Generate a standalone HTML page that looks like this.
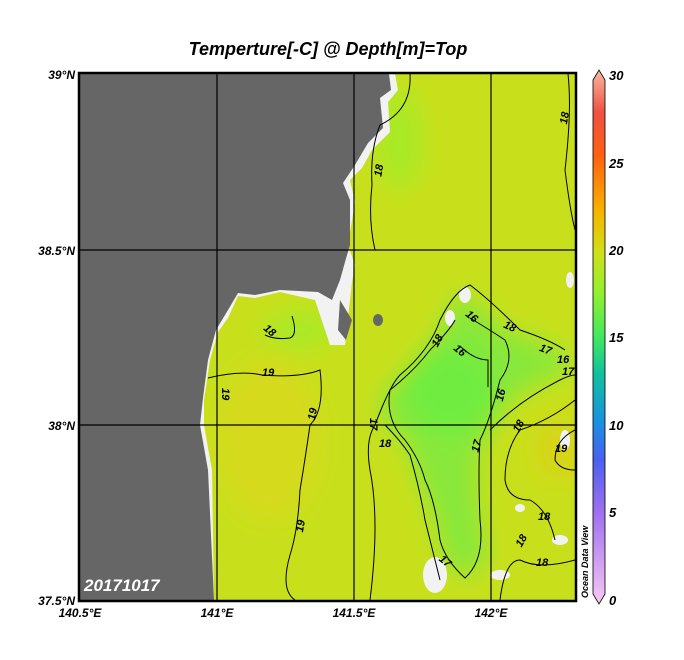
<!DOCTYPE html>
<html><head><meta charset="utf-8"><style>
body{margin:0;background:#fff;width:684px;height:660px;overflow:hidden}
svg{display:block}
text{font-family:"Liberation Sans",sans-serif;font-style:italic;font-weight:bold}
</style></head><body>
<svg width="684" height="660" viewBox="0 0 684 660">
<defs>
<linearGradient id="cb" x1="0" y1="1" x2="0" y2="0">
<stop offset="0" stop-color="#f8c8f4"/>
<stop offset="0.17" stop-color="#a070f0"/>
<stop offset="0.27" stop-color="#4a60f0"/>
<stop offset="0.34" stop-color="#1a90e0"/>
<stop offset="0.43" stop-color="#10c0a0"/>
<stop offset="0.5" stop-color="#40e860"/>
<stop offset="0.58" stop-color="#90f030"/>
<stop offset="0.66" stop-color="#d0e018"/>
<stop offset="0.74" stop-color="#f8b000"/>
<stop offset="0.84" stop-color="#ff6010"/>
<stop offset="0.92" stop-color="#f05040"/>
<stop offset="1" stop-color="#f8b8a0"/>
</linearGradient>
<filter id="bl"><feGaussianBlur stdDeviation="12"/></filter>
<clipPath id="pc"><rect x="80" y="74" width="495" height="526"/></clipPath>
</defs>
<text x="328" y="55" font-size="18" text-anchor="middle">Temperture[-C] @ Depth[m]=Top</text>
<g clip-path="url(#pc)">
<rect x="80" y="74" width="495" height="526" fill="#c8e01c"/>
<g filter="url(#bl)">
<ellipse cx="270" cy="440" rx="50" ry="80" fill="#d6da1a"/>
<ellipse cx="560" cy="450" rx="25" ry="30" fill="#d8d418"/>
<polygon points="465,295 505,330 560,350 575,370 545,380 510,400 490,430 476,460 480,520 488,560 465,580 445,560 435,520 415,470 405,440 380,420 385,390 410,370 435,340 455,300" fill="#88e83a"/>
<ellipse cx="450" cy="390" rx="45" ry="45" fill="#70ec40"/>
<ellipse cx="400" cy="140" rx="22" ry="50" fill="#a8ea28"/>
<ellipse cx="300" cy="330" rx="35" ry="18" fill="#a8ea28"/>
</g>
<polygon points="80,74 395,74 398,90 388,102 390,132 372,150 362,168 350,180 355,202 348,245 355,265 352,282 345,345 330,345 315,300 280,292 255,298 238,296 228,318 218,332 210,360 204,400 204,425 212,470 214,600 80,600" fill="#f2f2f2"/>
<polygon points="80,74 389,74 391,90 380,98 383,128 368,143 355,165 343,183 350,200 350,245 345,262 340,280 332,300 318,292 280,290 255,295 238,293 228,310 216,330 208,360 203,398 200,425 208,470 214,600 80,600" fill="#666"/>
<polygon points="340,300 338,330 346,340 352,320" fill="#666"/>
<ellipse cx="378" cy="320" rx="5" ry="6" fill="#666"/>
<g fill="#f2f2f2"><ellipse cx="465" cy="295" rx="6" ry="8"/><ellipse cx="450" cy="318" rx="5" ry="8"/><ellipse cx="560" cy="540" rx="8" ry="5"/><ellipse cx="565" cy="440" rx="5" ry="10"/><ellipse cx="520" cy="508" rx="5" ry="4"/><ellipse cx="435" cy="575" rx="12" ry="18"/><ellipse cx="500" cy="575" rx="10" ry="5"/><ellipse cx="570" cy="280" rx="4" ry="8"/></g>
<g fill="none" stroke="#000" stroke-width="1">
<path d="M410,74 Q412,110 380,125 Q370,150 372,185 Q368,220 375,250"/>
<path d="M568,74 Q572,110 565,170 Q570,210 575,230"/>
<path d="M292,316 Q298,335 290,338 Q275,340 265,335"/>
<path d="M208,378 Q240,370 262,375 Q300,378 320,370 Q325,410 310,425 Q305,460 300,490 Q298,530 290,555 Q280,590 295,600"/>
<path d="M370,600 Q380,520 370,470 Q365,440 375,425 Q390,385 400,375 Q430,350 440,320 Q455,290 470,285 Q490,300 520,330 Q550,340 565,350"/>
<path d="M385,425 Q400,440 410,455 Q420,490 425,520 Q435,560 440,580"/>
<path d="M470,318 Q490,330 505,340 Q515,360 500,380 Q490,420 480,440 Q478,470 480,520 Q485,560 465,578 Q445,560 440,540 Q435,500 425,480 Q420,460 405,440 Q385,420 390,390 Q415,370 430,350 Q450,330 455,320"/>
<path d="M461,347 Q475,360 488,360 Q488,400 488,380"/>
<path d="M490,430 Q520,400 560,380 Q570,375 575,375"/>
<path d="M575,400 Q550,420 520,430 Q505,450 505,480 Q508,500 530,500 Q548,510 555,540"/>
<path d="M500,600 Q505,560 520,560 Q540,570 575,560"/>
<path d="M575,430 Q555,440 555,460 Q560,470 575,470"/>
</g>
<g font-size="11" fill="#000" font-style="normal">
<text x="372" y="178" transform="rotate(-80 376 172)">18</text>
<text x="264" y="334" transform="rotate(40 270 330)">18</text>
<text x="230" y="388" transform="rotate(90 226 384)">19</text>
<text x="262" y="376">19</text>
<text x="306" y="418" transform="rotate(-80 312 414)">19</text>
<text x="294" y="530" transform="rotate(-80 300 526)">19</text>
<text x="430" y="345" transform="rotate(-60 436 340)">18</text>
<text x="466" y="320" transform="rotate(40 472 316)">16</text>
<text x="454" y="354" transform="rotate(40 460 350)">16</text>
<text x="495" y="400" transform="rotate(-75 500 396)">16</text>
<text x="504" y="330" transform="rotate(25 510 326)">18</text>
<text x="540" y="353" transform="rotate(20 546 348)">17</text>
<text x="557" y="363">16</text>
<text x="562" y="375">17</text>
<text x="379" y="447">18</text>
<text x="378" y="418" transform="rotate(90 374 414)">17</text>
<text x="470" y="450" transform="rotate(-75 476 446)">17</text>
<text x="512" y="430" transform="rotate(-60 518 426)">18</text>
<text x="555" y="452">19</text>
<text x="538" y="520">18</text>
<text x="514" y="545" transform="rotate(-60 520 540)">18</text>
<text x="536" y="566">18</text>
<text x="440" y="565" transform="rotate(40 446 560)">17</text>
<text x="558" y="122" transform="rotate(-80 564 118)">18</text>
</g>
</g>
<g stroke="#000" stroke-width="1.2">
<line x1="217" y1="74" x2="217" y2="600"/><line x1="354" y1="74" x2="354" y2="600"/><line x1="491" y1="74" x2="491" y2="600"/>
<line x1="80" y1="250" x2="575" y2="250"/><line x1="80" y1="425" x2="575" y2="425"/>
</g>
<rect x="79" y="73" width="497" height="528" fill="none" stroke="#000" stroke-width="2.5"/>
<text x="84" y="591" font-size="17" fill="#fff">20171017</text>
<g font-size="12" fill="#000">
<text x="75" y="79" text-anchor="end">39°N</text>
<text x="75" y="255" text-anchor="end">38.5°N</text>
<text x="75" y="430" text-anchor="end">38°N</text>
<text x="75" y="605" text-anchor="end">37.5°N</text>
<text x="80" y="617" text-anchor="middle">140.5°E</text>
<text x="217" y="617" text-anchor="middle">141°E</text>
<text x="354" y="617" text-anchor="middle">141.5°E</text>
<text x="491" y="617" text-anchor="middle">142°E</text>
</g>
<text x="588" y="598" font-size="9" transform="rotate(-90 588 598)">Ocean Data View</text>
<polygon points="593,80 599,70 605,80 605,594 599,604 593,594" fill="url(#cb)" stroke="#000" stroke-width="0.8"/>
<g font-size="13" fill="#000">
<text x="609" y="80">30</text><text x="609" y="168">25</text><text x="609" y="255">20</text>
<text x="609" y="342">15</text><text x="609" y="430">10</text><text x="609" y="517">5</text><text x="609" y="605">0</text>
</g>
</svg>
</body></html>
